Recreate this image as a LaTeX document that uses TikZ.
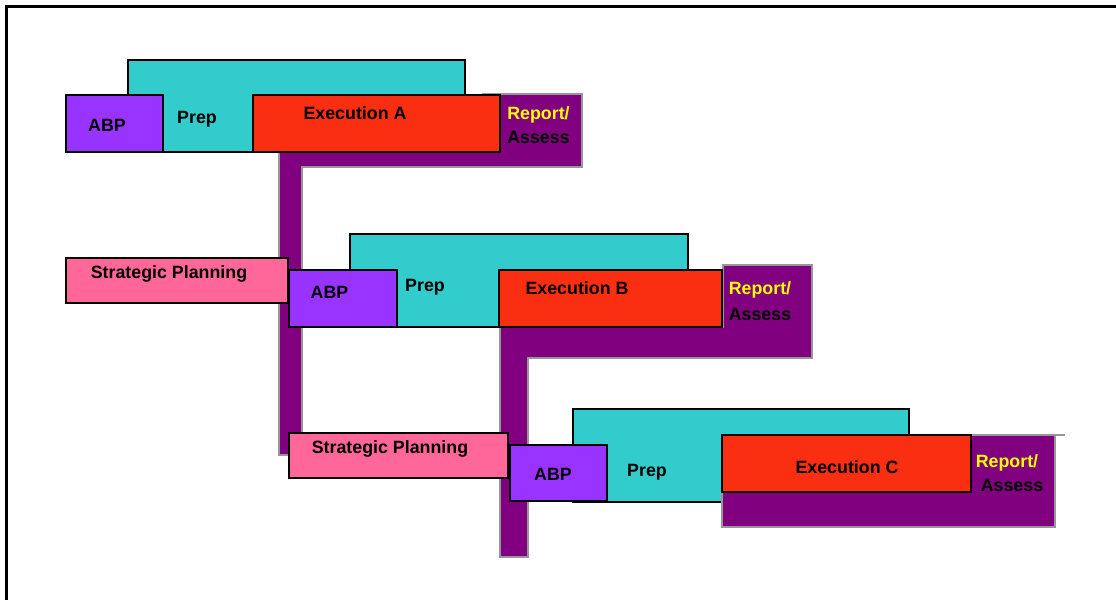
\documentclass[tikz,border=0pt]{standalone}
\usepackage{fontspec}
\setmainfont{Liberation Sans}
\usepackage{tikz}
\definecolor{prepcol}{HTML}{33CCCC}
\definecolor{abpcol}{HTML}{9933FF}
\definecolor{execcol}{HTML}{FA2E10}
\definecolor{plancol}{HTML}{FF6699}
\definecolor{rptcol}{HTML}{800080}
\definecolor{rptline}{HTML}{979797}
\definecolor{yel}{HTML}{FFFF00}

\begin{document}
\begin{tikzpicture}[x=0.5pt, y=-0.5pt,
    stage/.style={draw=black, line width=1pt},
    prepbox/.style={stage, fill=prepcol},
    abpbox/.style={stage, fill=abpcol},
    execbox/.style={stage, fill=execcol},
    planbox/.style={stage, fill=plancol},
    rptshape/.style={draw=rptline, line width=1pt, fill=rptcol},
    txt/.style={font=\fontsize{8.9}{10.5}\selectfont\bfseries, inner sep=0pt,
      text height=6.4pt, text depth=0pt}]
    \useasboundingbox (0,0) rectangle (1116,600);
    \draw[line width=1.5pt] (6.5,620) -- (6.5,6.5) -- (1130,6.5);

    % cycle A
    \draw[prepbox] (127.5,60) rectangle (465,152);
    \draw[rptshape] (483,93.5) -- (581.5,93.5) -- (581.5,166.5) -- (302,166.5)
      -- (302,455) -- (278.5,455) -- (278.5,152) -- (483,152) -- cycle;
    \draw[abpbox] (66,95) rectangle (162.5,152);
    \draw[execbox] (252.5,95) rectangle (500,152);
    \node[txt] (abpA) at (107,125) {ABP};
    \node[txt] (prepA) at (197,117) {Prep};
    \node[txt] (execA) at (355,113) {Execution A};
    \node[txt, yel] (rptA) at (538.5,113) {Report/};
    \node[txt] (assA) at (538.5,137) {Assess};

    \draw[planbox] (66,258) rectangle (287.5,303);
    \node[txt] (planA) at (169,272.5) {Strategic Planning};

    % cycle B
    \draw[prepbox] (350,234) rectangle (687.5,326.5);
    \draw[rptshape] (723,265) -- (811.5,265) -- (811.5,357.5) -- (527.5,357.5)
      -- (527.5,556.5) -- (500,556.5) -- (500,326.5) -- (723,326.5) -- cycle;
    \draw[abpbox] (288.5,270) rectangle (396.5,326.5);
    \draw[execbox] (499,270) rectangle (722,326.5);
    \node[txt] (abpB) at (329.5,292.5) {ABP};
    \node[txt] (prepB) at (425,285) {Prep};
    \node[txt] (execB) at (577,288) {Execution B};
    \node[txt, yel] (rptB) at (760,288) {Report/};
    \node[txt] (assB) at (760,314) {Assess};

    \draw[planbox] (288.5,432.5) rectangle (508,478);
    \node[txt] (planB) at (390,447.5) {Strategic Planning};

    % cycle C
    \draw[prepbox] (572.5,409) rectangle (909,501.5);
    \draw[rptshape] (722,434.5) rectangle (1055,526.5);
    \draw[draw=rptline, line width=1pt] (960,434.5) -- (1065,434.5);
    \draw[abpbox] (510,444.5) rectangle (607,500.5);
    \draw[execbox] (722,435) rectangle (971,492);
    \node[txt] (abpC) at (553,474) {ABP};
    \node[txt] (prepC) at (647,470.5) {Prep};
    \node[txt] (execC) at (847,467.5) {Execution C};
    \node[txt, yel] (rptC) at (1007,461) {Report/};
    \node[txt] (assC) at (1012,485) {Assess};
  \end{tikzpicture}
\end{document}
